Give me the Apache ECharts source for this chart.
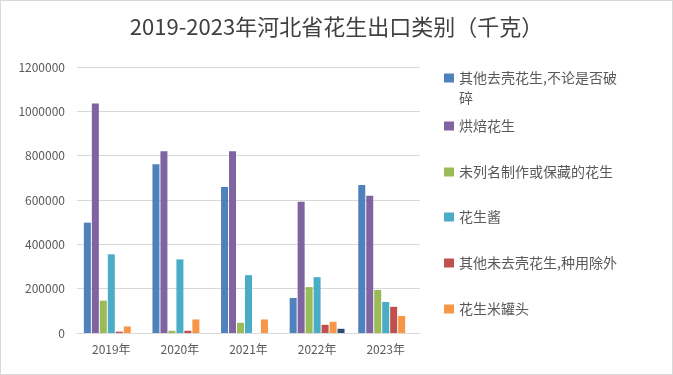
<!DOCTYPE html>
<html><head><meta charset="utf-8">
<script src="https://cdn.jsdelivr.net/npm/echarts@6/dist/echarts.min.js"></script>
<style>html,body{margin:0;padding:0;background:#fff;}#c{width:673px;height:375px;box-sizing:border-box;border:1px solid #d9d9d9;}</style>
</head><body><div id="c"></div>
<script>
var categories = ['2019年','2020年','2021年','2022年','2023年'];
var seriesNames = ['其他去壳花生,不论是否破碎','烘焙花生','未列名制作或保藏的花生','花生酱','其他未去壳花生,种用除外','花生米罐头','其他'];
var s1 = [498000, 761000, 659000, 158000, 668000];
var s2 = [1035000, 820000, 820000, 592000, 619000];
var s3 = [146000, 10000, 46000, 207000, 194000];
var s4 = [355000, 332000, 261000, 252000, 140000];
var s5 = [6000, 10000, 0, 37000, 118000];
var s6 = [29500, 61000, 61000, 50500, 77000];
var s7 = [0, 0, 0, 19000, 0];
var colors = ['#4F81BD','#8064A2','#9BBB59','#4BACC6','#C0504D','#F79646','#2C4D75'];
var values = [s1,s2,s3,s4,s5,s6,s7];
var yTicks = [0,200000,400000,600000,800000,1000000,1200000];

var font = '"Noto Sans CJK SC", "Noto Sans", sans-serif';
var chart = echarts.init(document.getElementById('c'));
var legendTops = [47, 115, 161, 206, 252, 298];
var legends = legendTops.map(function(t, i){
  return {
    orient: 'vertical', left: 443, top: t, padding: 0,
    data: [seriesNames[i]],
    itemWidth: 10, itemHeight: 9, itemGap: 10, icon: 'rect',
    formatter: function(n){ return n === seriesNames[0] ? '\n其他去壳花生,不论是否破\n碎' : n; },
    textStyle: {fontFamily: font, fontSize: 14, color: '#595959', lineHeight: 20},
    selectedMode: false
  };
});
chart.setOption({
  animation: false,
  color: colors,
  title: {text: '2019-2023年河北省花生出口类别（千克）', left: 'center', top: 10,
    textStyle: {fontFamily: font, fontSize: 22, fontWeight: 'normal', color: '#404040'}},
  legend: legends,
  grid: {left: 76, right: 252, top: 66, bottom: 41},
  xAxis: {type: 'category', data: categories,
    axisLine: {lineStyle: {color: '#d9d9d9'}}, axisTick: {show: false},
    axisLabel: {fontFamily: font, fontSize: 12, color: '#595959', margin: 10}},
  yAxis: {type: 'value', min: yTicks[0], max: yTicks[yTicks.length-1], interval: 200000,
    axisLine: {show: false}, axisTick: {show: false},
    axisLabel: {fontFamily: font, fontSize: 12, color: '#595959', margin: 12,
      formatter: function(v){ return String(v); }},
    splitLine: {lineStyle: {color: '#d9d9d9'}}},
  series: values.map(function(v, i){
    return {name: seriesNames[i], type: 'bar', data: v, barWidth: 7, barGap: '14%'};
  })
});
</script></body></html>
